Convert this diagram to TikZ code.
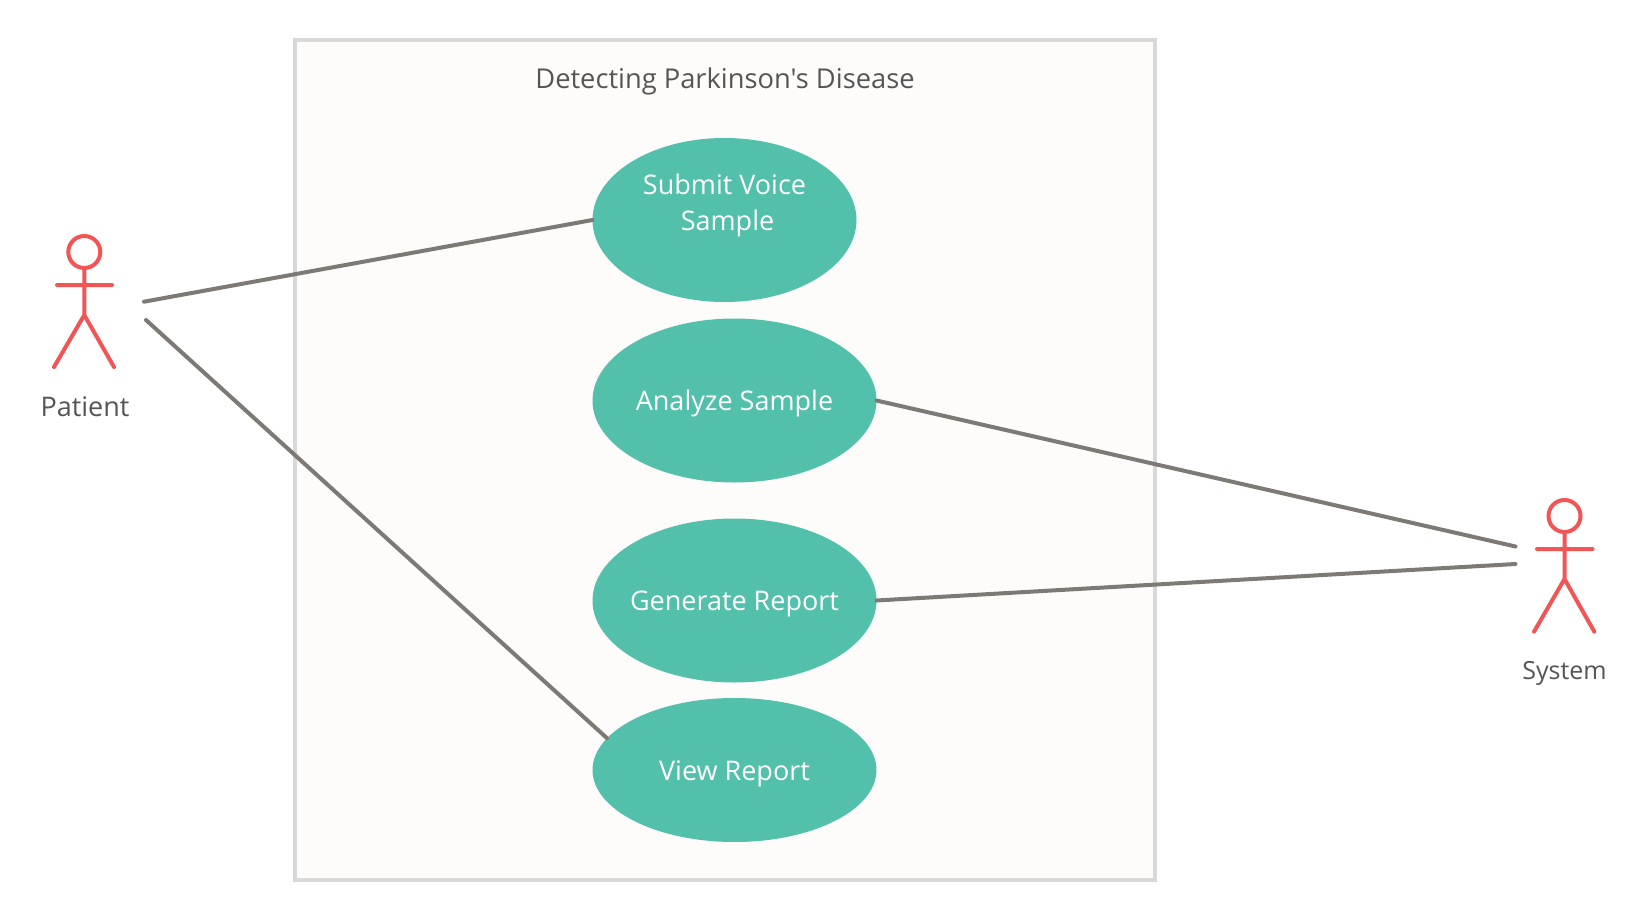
\documentclass[tikz,border=0pt]{standalone}
\usepackage{fontspec}
\setmainfont{Open Sans}
\newfontfamily\plainfont{Open Sans}
\usetikzlibrary{shapes.geometric}
\definecolor{teal1}{HTML}{52C0AA}
\definecolor{red1}{HTML}{F25555}
\definecolor{gray1}{HTML}{7D7A76}
\definecolor{txt}{HTML}{555555}
\definecolor{frame1}{HTML}{D8D8D8}
\definecolor{bg1}{HTML}{FDFCFA}
\newcommand\placed[2]{\makebox[0pt][c]{\smash{\raisebox{#1}{#2}}}}
\tikzset{
 usecase/.style={ellipse,fill=teal1,text=white,inner sep=0pt,outer sep=0pt,align=center,font=\fontsize{27}{36}\selectfont},
 label1/.style={text=txt,inner sep=0pt,font=\fontsize{27}{30}\selectfont},
 link/.style={gray1,line width=4pt,line cap=round},
 stick/.style={red1,line width=4pt,line cap=round,line join=round},
}
\begin{document}
\begin{tikzpicture}[x=1pt,y=-1pt]
\useasboundingbox (0,0) rectangle (1647,920);
\fill[white] (0,0) rectangle (1647,920);
\node[draw=frame1,fill=bg1,line width=3.6pt,minimum width=860pt,minimum height=840pt,inner sep=0pt] (frame) at (725,460) {};
\node[label1,font=\fontsize{27.3}{30}\selectfont] (title) at (725,81) {\plainfont Detecting Parkinson's Disease};
\node[usecase,minimum width=264pt,minimum height=164pt] (submit) at (724.5,220) {\placed{8pt}{\begin{tabular}{@{}c@{}}Submit Voice\\\hspace*{6pt}Sample\end{tabular}}};
\node[usecase,minimum width=284pt,minimum height=164pt] (analyze) at (734.5,400.5) {\placed{-10pt}{Analyze Sample}};
\node[usecase,minimum width=284pt,minimum height=164pt] (generate) at (734.5,600.5) {\placed{-10pt}{Generate Report}};
\node[usecase,minimum width=284pt,minimum height=144pt] (view) at (734.5,770) {\placed{-10.5pt}{View Report}};
% Patient
\node[stick,draw,circle,minimum size=32pt,inner sep=0pt] (phead) at (84.3,252) {};
\coordinate (phip) at (84.3,315);
\coordinate (parmL) at (57,285);
\coordinate (parmR) at (112,285);
\coordinate (plegL) at (54,367);
\coordinate (plegR) at (114,367);
\draw[stick] (phead.south) -- (phip) (parmL) -- (parmR) (plegL) -- (phip) -- (plegR);
\node[label1] (patient) at (85,406.5) {Patient};
% System
\node[stick,draw,circle,minimum size=32pt,inner sep=0pt] (shead) at (1564.5,516) {};
\coordinate (ship) at (1564.5,579);
\coordinate (sarmL) at (1537,549);
\coordinate (sarmR) at (1592.5,549);
\coordinate (slegL) at (1534,631.7);
\coordinate (slegR) at (1594.3,631.7);
\draw[stick] (shead.south) -- (ship) (sarmL) -- (sarmR) (slegL) -- (ship) -- (slegR);
\node[label1,font=\fontsize{25}{30}\selectfont] (system) at (1564.5,673) {System};
% connectors
\coordinate (p1) at (144,301.7);
\coordinate (p2) at (146,320);
\coordinate (s1) at (1515.5,546.5);
\coordinate (s2) at (1515.5,564);
\draw[link] (p1) -- (submit.west);
\draw[link] (p2) -- (view.166.6);
\draw[link] (analyze.east) -- (s1);
\draw[link] (generate.east) -- (s2);
\end{tikzpicture}
\end{document}
